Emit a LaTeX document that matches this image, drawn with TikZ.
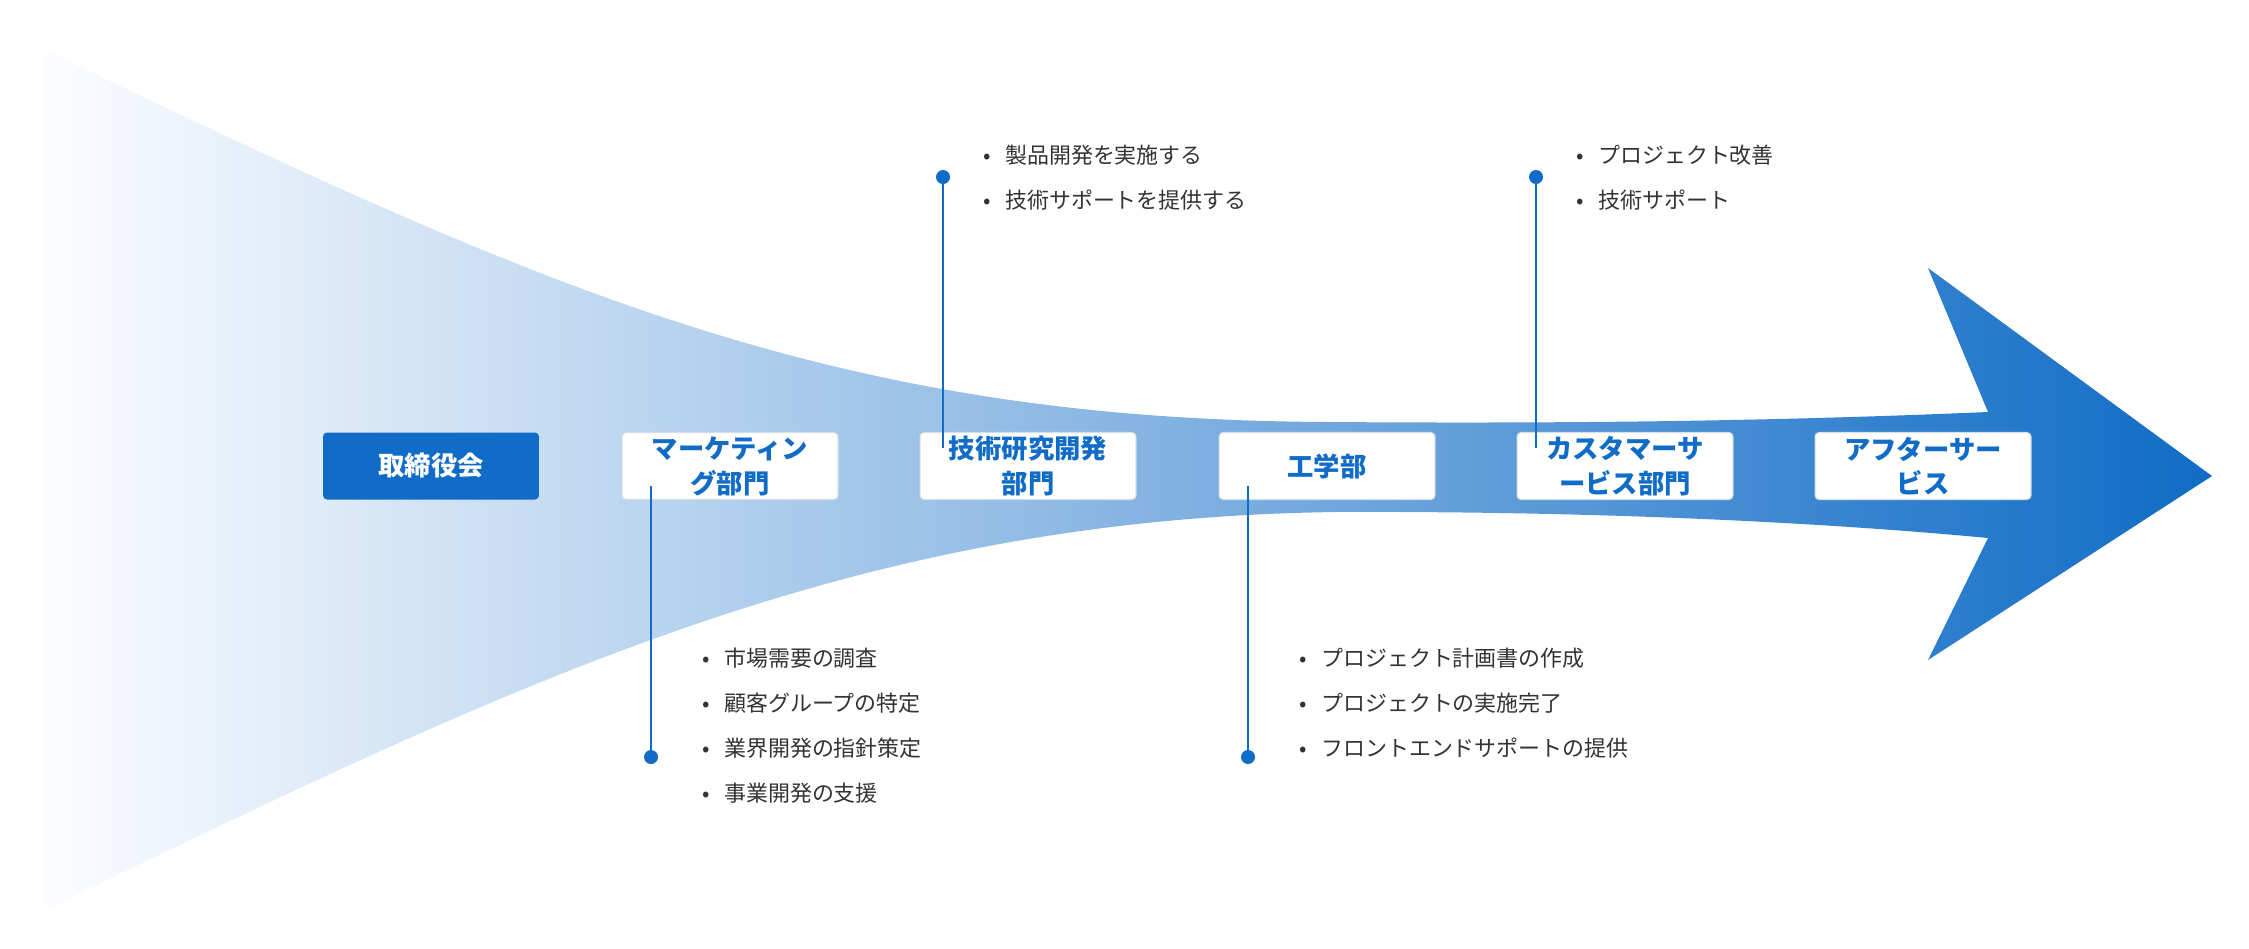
\documentclass[tikz,border=0pt]{standalone}
\usepackage{fontspec}
\setmainfont{Noto Sans CJK JP}
\usetikzlibrary{positioning}
\definecolor{OrgBlue}{RGB}{16,108,198}
\definecolor{OrgFade}{RGB}{252,253,255}
\definecolor{OrgText}{RGB}{51,51,51}
\definecolor{OrgEdge}{RGB}{214,222,230}
\tikzset{
  org/board/.style={
    fill=OrgBlue,
    rounded corners=2.3pt,
    text=white,
    align=center,
    minimum width=4.32cm,
    minimum height=1.34cm,
    inner sep=0pt,
    font=\bfseries\fontsize{15pt}{19.9pt}\selectfont
  },
  org/dept/.style={
    draw=OrgEdge,
    line width=0.6pt,
    fill=white,
    rounded corners=2.3pt,
    text=OrgBlue,
    align=center,
    minimum width=4.32cm,
    minimum height=1.34cm,
    inner sep=0pt,
    font=\bfseries\fontsize{15pt}{19.9pt}\selectfont
  },
  org/list/.style={anchor=west, inner sep=0pt, align=left, text=OrgText, font=\fontsize{12.5pt}{25.6pt}\selectfont},
  org/lead/.style={draw=OrgBlue, line width=1.1pt},
  org/dot/.style={circle, fill=OrgBlue, minimum size=0.28cm, inner sep=0pt}
}
\newcommand{\orgbul}{\makebox[9pt][c]{•}\hspace{5.7pt}}
\begin{document}
\begin{tikzpicture}[x=0.02cm,y=-0.02cm]
  \useasboundingbox (0,0) rectangle (2249,948);
  % widening arrow
  \shade[left color=OrgFade, right color=OrgBlue]
    (45,50) .. controls (545,290) and (830,420) .. (1330,422)
    .. controls (1600,424) and (1800,420) .. (1988,412)
    -- (1928,268) -- (2212,476) -- (1928,660) -- (1988,538)
    .. controls (1850,525) and (1650,513) .. (1400,512)
    .. controls (880,505) and (545,668) .. (45,910) -- cycle;
  % departments
  \node[org/board] (b1) at (431,466) {取締役会};
  \foreach \i/\x/\t in {2/730/{マーケティン\\グ部門},3/1028/{技術研究開発\\部門},4/1327/{工学部},5/1625/{カスタマーサ\\ービス部門},6/1923/{アフターサー\\ビス}}{
    \node[org/dept] (b\i) at (\x,466) {\t};
  }
  % task lists
  \node[org/list] (l2) at (698,725.5) {\orgbul 市場需要の調査\\\orgbul 顧客グループの特定\\\orgbul 業界開発の指針策定\\\orgbul 事業開発の支援};
  \node[org/list] (l3) at (979,177.5) {\orgbul 製品開発を実施する\\\orgbul 技術サポートを提供する};
  \node[org/list] (l4) at (1295,703) {\orgbul プロジェクト計画書の作成\\\orgbul プロジェクトの実施完了\\\orgbul フロントエンドサポートの提供};
  \node[org/list] (l5) at (1572,177.5) {\orgbul プロジェクト改善\\\orgbul 技術サポート};
  % leaders
  \node[org/dot] (p2) at (651,757) {};
  \node[org/dot] (p3) at (943,177) {};
  \node[org/dot] (p4) at (1248,757) {};
  \node[org/dot] (p5) at (1536,177) {};
  \coordinate (e2) at (651,486);
  \coordinate (e3) at (943,448);
  \coordinate (e4) at (1248,486);
  \coordinate (e5) at (1536,448);
  \draw[org/lead] (p2.north) -- (e2);
  \draw[org/lead] (p3.south) -- (e3);
  \draw[org/lead] (p4.north) -- (e4);
  \draw[org/lead] (p5.south) -- (e5);
\end{tikzpicture}
\end{document}
